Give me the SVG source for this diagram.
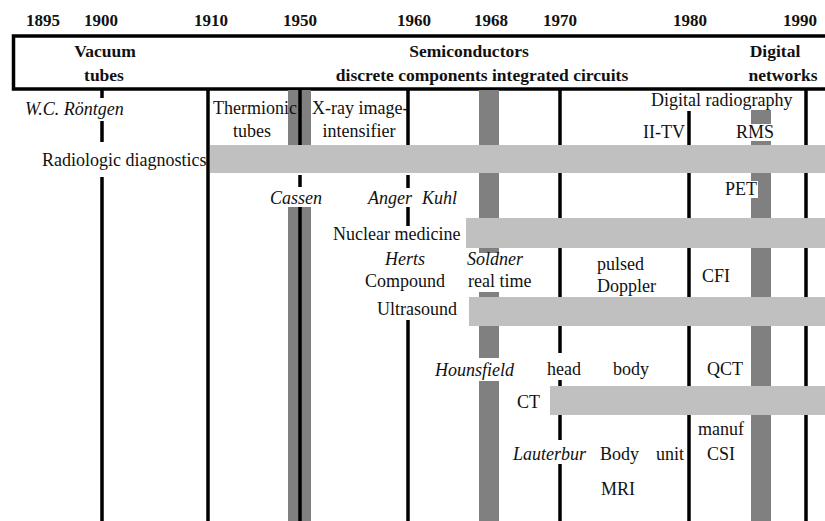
<svg xmlns="http://www.w3.org/2000/svg" width="825" height="521" viewBox="0 0 825 521">
<style>
text{font-family:"Liberation Serif","Times New Roman",serif;fill:#111;}
.yr{font-size:17px;font-weight:bold;text-anchor:middle;}
.hd{font-size:17.5px;font-weight:bold;text-anchor:middle;}
.t{font-size:18px;}
.i{font-size:18px;font-style:italic;}
.m{text-anchor:middle;}
.vl{stroke:#000;stroke-width:3.5;fill:none;}
.band{fill:#808080;}
.bar{fill:#c0c0c0;}
</style>
<rect width="825" height="521" fill="#fff"/>
<g id="years">
<text class="yr" x="43" y="26">1895</text>
<text class="yr" x="101" y="26">1900</text>
<text class="yr" x="211" y="26">1910</text>
<text class="yr" x="300" y="26">1950</text>
<text class="yr" x="414" y="26">1960</text>
<text class="yr" x="491" y="26">1968</text>
<text class="yr" x="560" y="26">1970</text>
<text class="yr" x="690" y="26">1980</text>
<text class="yr" x="800" y="26">1990</text>
</g>
<g id="eras">
<rect x="13.5" y="36" width="830" height="53" fill="none" stroke="#000" stroke-width="3.5"/>
<text class="hd" x="105" y="57">Vacuum</text>
<text class="hd" x="104" y="81">tubes</text>
<text class="hd" x="469" y="57">Semiconductors</text>
<text class="hd" x="482" y="81">discrete components integrated circuits</text>
<text class="hd" x="775" y="57">Digital</text>
<text class="hd" x="783" y="81">networks</text>
</g>
<g id="connectors">
<rect class="band" x="288" y="90" width="23" height="55"/>
<rect class="band" x="288" y="207" width="23" height="314"/>
<rect class="band" x="479" y="90" width="20" height="163"/>
<rect class="band" x="479" y="292" width="20" height="66"/>
<rect class="band" x="479" y="381" width="20" height="140"/>
<rect class="band" x="751" y="110" width="20" height="14"/>
<rect class="band" x="751" y="141" width="20" height="380"/>
<path class="vl" d="M102 90V98M102 121V142M102 177V521"/>
<path class="vl" d="M208 90V521"/>
<path class="vl" d="M300 90V145M300 175V187M300 207V521"/>
<path class="vl" d="M408 90V145M408 175V188M408 207V226M408 320V521"/>
<path class="vl" d="M560 90V353M560 380V440M560 464V521"/>
<path class="vl" d="M689 111V521"/>
<path class="vl" d="M806 90V521"/>
</g>
<g id="radiologic">
<rect class="bar" x="210" y="145" width="615" height="28"/>
<text class="i" x="25" y="115">W.C. Röntgen</text>
<text class="t" x="213" y="114">Thermionic</text>
<text class="t m" x="252" y="137">tubes</text>
<text class="t" x="312" y="114">X-ray image-</text>
<text class="t m" x="359" y="137">intensifier</text>
<text class="t" x="42" y="166">Radiologic diagnostics</text>
<text class="t" x="651" y="106">Digital radiography</text>
<text class="t" x="643" y="138">II-TV</text>
<text class="t" x="736" y="138">RMS</text>
</g>
<g id="nuclear">
<rect class="bar" x="466" y="218" width="359" height="30"/>
<text class="i" x="270" y="204">Cassen</text>
<text class="i" x="368" y="204">Anger</text>
<text class="i" x="422" y="204">Kuhl</text>
<rect x="718" y="181" width="40" height="17" fill="#fff"/>
<text class="t" x="725" y="195">PET</text>
<text class="t" x="333" y="240">Nuclear medicine</text>
</g>
<g id="ultrasound">
<rect class="bar" x="469" y="297" width="356" height="29"/>
<text class="i m" x="405" y="265">Herts</text>
<text class="t m" x="405" y="287">Compound</text>
<text class="i" x="467" y="265">Soldner</text>
<text class="t" x="468" y="287">real time</text>
<text class="t" x="597" y="270">pulsed</text>
<text class="t" x="597" y="292">Doppler</text>
<text class="t" x="702" y="282">CFI</text>
<text class="t" x="377" y="315">Ultrasound</text>
</g>
<g id="ct">
<rect class="bar" x="550" y="386" width="275" height="29"/>
<text class="i" x="435" y="376">Hounsfield</text>
<text class="t" x="547" y="375">head</text>
<text class="t" x="613" y="375">body</text>
<text class="t" x="707" y="375">QCT</text>
<text class="t" x="517" y="408">CT</text>
</g>
<g id="mri">
<text class="t" x="698" y="435">manuf</text>
<text class="i" x="513" y="460">Lauterbur</text>
<text class="t" x="600" y="460">Body</text>
<text class="t" x="656" y="460">unit</text>
<text class="t" x="707" y="460">CSI</text>
<text class="t" x="601" y="495">MRI</text>
</g>
</svg>
